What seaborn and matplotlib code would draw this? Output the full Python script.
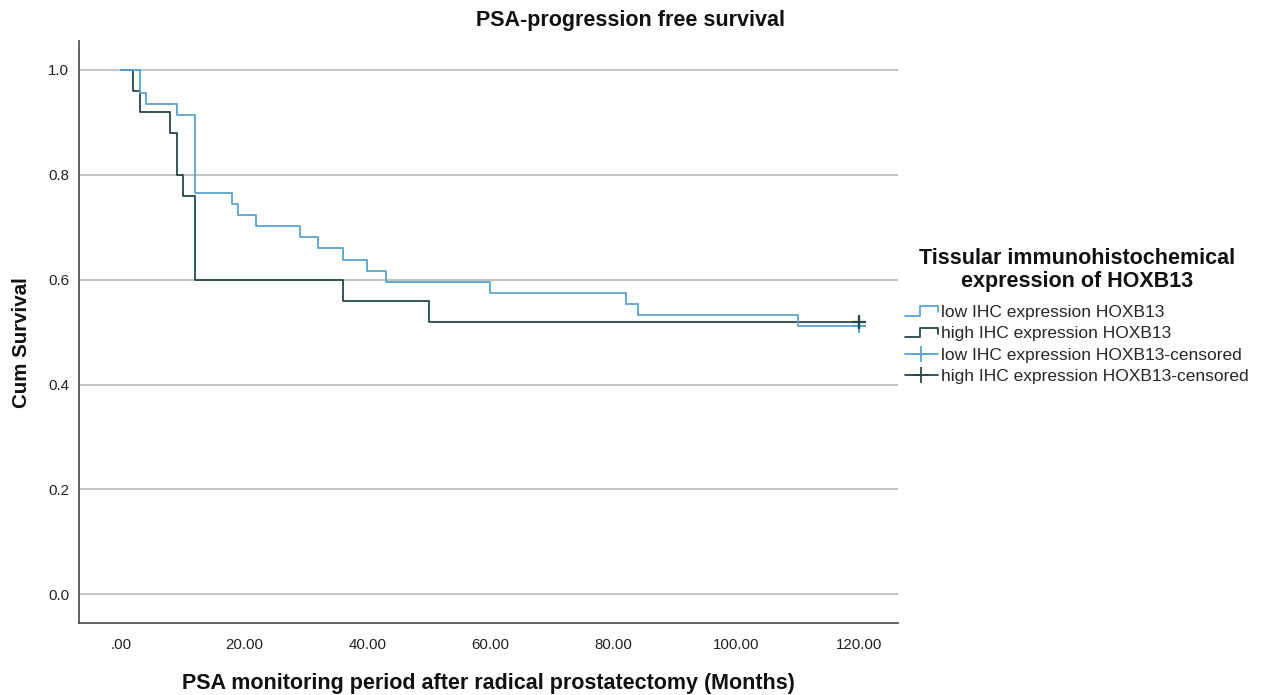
# Curva de Kaplan-Meier: PSA-progression free survival

import numpy as np
import pandas as pd
import seaborn as sns
import matplotlib.pyplot as plt
from matplotlib.lines import Line2D
from matplotlib.legend_handler import HandlerBase

# Dados (meses, sobrevida acumulada)
low_time = [0, 3, 4, 9, 12, 18, 19, 22, 29, 32, 36, 40, 43, 60, 82, 84, 110, 120]
low_surv = [1.0, 0.957, 0.936, 0.915, 0.766, 0.745, 0.723, 0.702, 0.681,
            0.660, 0.638, 0.617, 0.596, 0.574, 0.553, 0.532, 0.511, 0.511]
high_time = [0, 2, 3, 8, 9, 10, 12, 36, 50, 120]
high_surv = [1.0, 0.96, 0.92, 0.88, 0.80, 0.76, 0.60, 0.56, 0.52, 0.52]

# Observações censuradas
low_cens_time = [120]
low_cens_surv = [0.511]
high_cens_time = [120]
high_cens_surv = [0.52]

group_names = ["low IHC expression HOXB13", "high IHC expression HOXB13"]
xticks = [0, 20, 40, 60, 80, 100, 120]
xtick_labels = [".00", "20.00", "40.00", "60.00", "80.00", "100.00", "120.00"]
yticks = [0.0, 0.2, 0.4, 0.6, 0.8, 1.0]
ytick_labels = ["0.0", "0.2", "0.4", "0.6", "0.8", "1.0"]

c_low = "#5aa3cc"
c_high = "#264848"

sns.set_theme(style="white")
plt.rcParams['font.family'] = ['Liberation Sans', 'DejaVu Sans']

fig = plt.figure(figsize=(12.61, 6.95), dpi=100)
ax = fig.add_axes([0.0627, 0.1036, 0.6495, 0.8374])

df_low = pd.DataFrame({"t": low_time, "s": low_surv})
df_high = pd.DataFrame({"t": high_time, "s": high_surv})

for y in yticks:
    ax.axhline(y, color="#bdbdbd", lw=1.3, zorder=0)

sns.lineplot(data=df_low, x="t", y="s", drawstyle="steps-post", estimator=None,
             color=c_low, lw=1.3, ax=ax, zorder=3)
sns.lineplot(data=df_high, x="t", y="s", drawstyle="steps-post", estimator=None,
             color=c_high, lw=1.3, ax=ax, zorder=2)
sns.scatterplot(x=low_cens_time, y=low_cens_surv, marker="+", s=110,
                color=c_low, linewidth=1.6, ax=ax, zorder=4)
sns.scatterplot(x=high_cens_time, y=high_cens_surv, marker="+", s=110,
                color=c_high, linewidth=1.6, ax=ax, zorder=4)

ax.set_xlim(-6.84, 126.3)
ax.set_ylim(-0.0547, 1.0553)
ax.set_xticks(xticks, xtick_labels)
ax.set_yticks(yticks, ytick_labels)
ax.tick_params(axis="both", length=0, labelsize=10.8, colors="#222222")
ax.tick_params(axis="x", pad=11)
ax.tick_params(axis="y", pad=7)
for side in ["top", "right"]:
    ax.spines[side].set_visible(False)
for side in ["left", "bottom"]:
    ax.spines[side].set_color("#555555")
    ax.spines[side].set_linewidth(1.3)

ax.set_xlabel("PSA monitoring period after radical prostatectomy (Months)",
              fontsize=15.5, fontweight="bold", labelpad=15, color="#111111")
ax.set_ylabel("Cum Survival", fontsize=14.8, fontweight="bold",
              color="#111111")
ax.yaxis.set_label_coords(-0.059, 0.481)
fig.suptitle("PSA-progression free survival", x=0.5, y=0.985,
             fontsize=15.5, fontweight="bold", color="#111111")


# Ícone em degrau para a legenda
class StepHandler(HandlerBase):
    def create_artists(self, legend, orig_handle, xdescent, ydescent,
                       width, height, fontsize, trans):
        x0, y0 = -xdescent, -ydescent
        xs = [x0, x0 + 0.45 * width, x0 + 0.45 * width, x0 + width, x0 + width]
        ys = [y0 + 0.1 * height, y0 + 0.1 * height, y0 + 0.9 * height,
              y0 + 0.9 * height, y0 + 0.4 * height]
        line = Line2D(xs, ys, color=orig_handle.get_color(), lw=1.3)
        line.set_transform(trans)
        return [line]


h_low = Line2D([], [], color=c_low)
h_high = Line2D([], [], color=c_high)
h_low_c = Line2D([], [], color=c_low, lw=1.3, marker="+", markersize=12,
                 markeredgewidth=1.3)
h_high_c = Line2D([], [], color=c_high, lw=1.3, marker="+", markersize=12,
                  markeredgewidth=1.3)

# Título da legenda como texto separado para controlar o espaçamento
fig.text(1077 / 1261, 1 - 248 / 695,
         "Tissular immunohistochemical\nexpression of HOXB13",
         ha="center", va="top", multialignment="center", linespacing=1.1,
         fontsize=15.5, fontweight="bold", color="#111111")

leg = fig.legend([h_low, h_high, h_low_c, h_high_c],
                 group_names + [g + "-censored" for g in group_names],
                 handler_map={h_low: StepHandler(), h_high: StepHandler()},
                 loc="upper left", bbox_to_anchor=(0.712, 1 - 298 / 695),
                 borderaxespad=0, frameon=False, fontsize=12.5,
                 handlelength=1.9, handletextpad=0.2, labelspacing=0.36)

plt.savefig("out.png", dpi=100)
